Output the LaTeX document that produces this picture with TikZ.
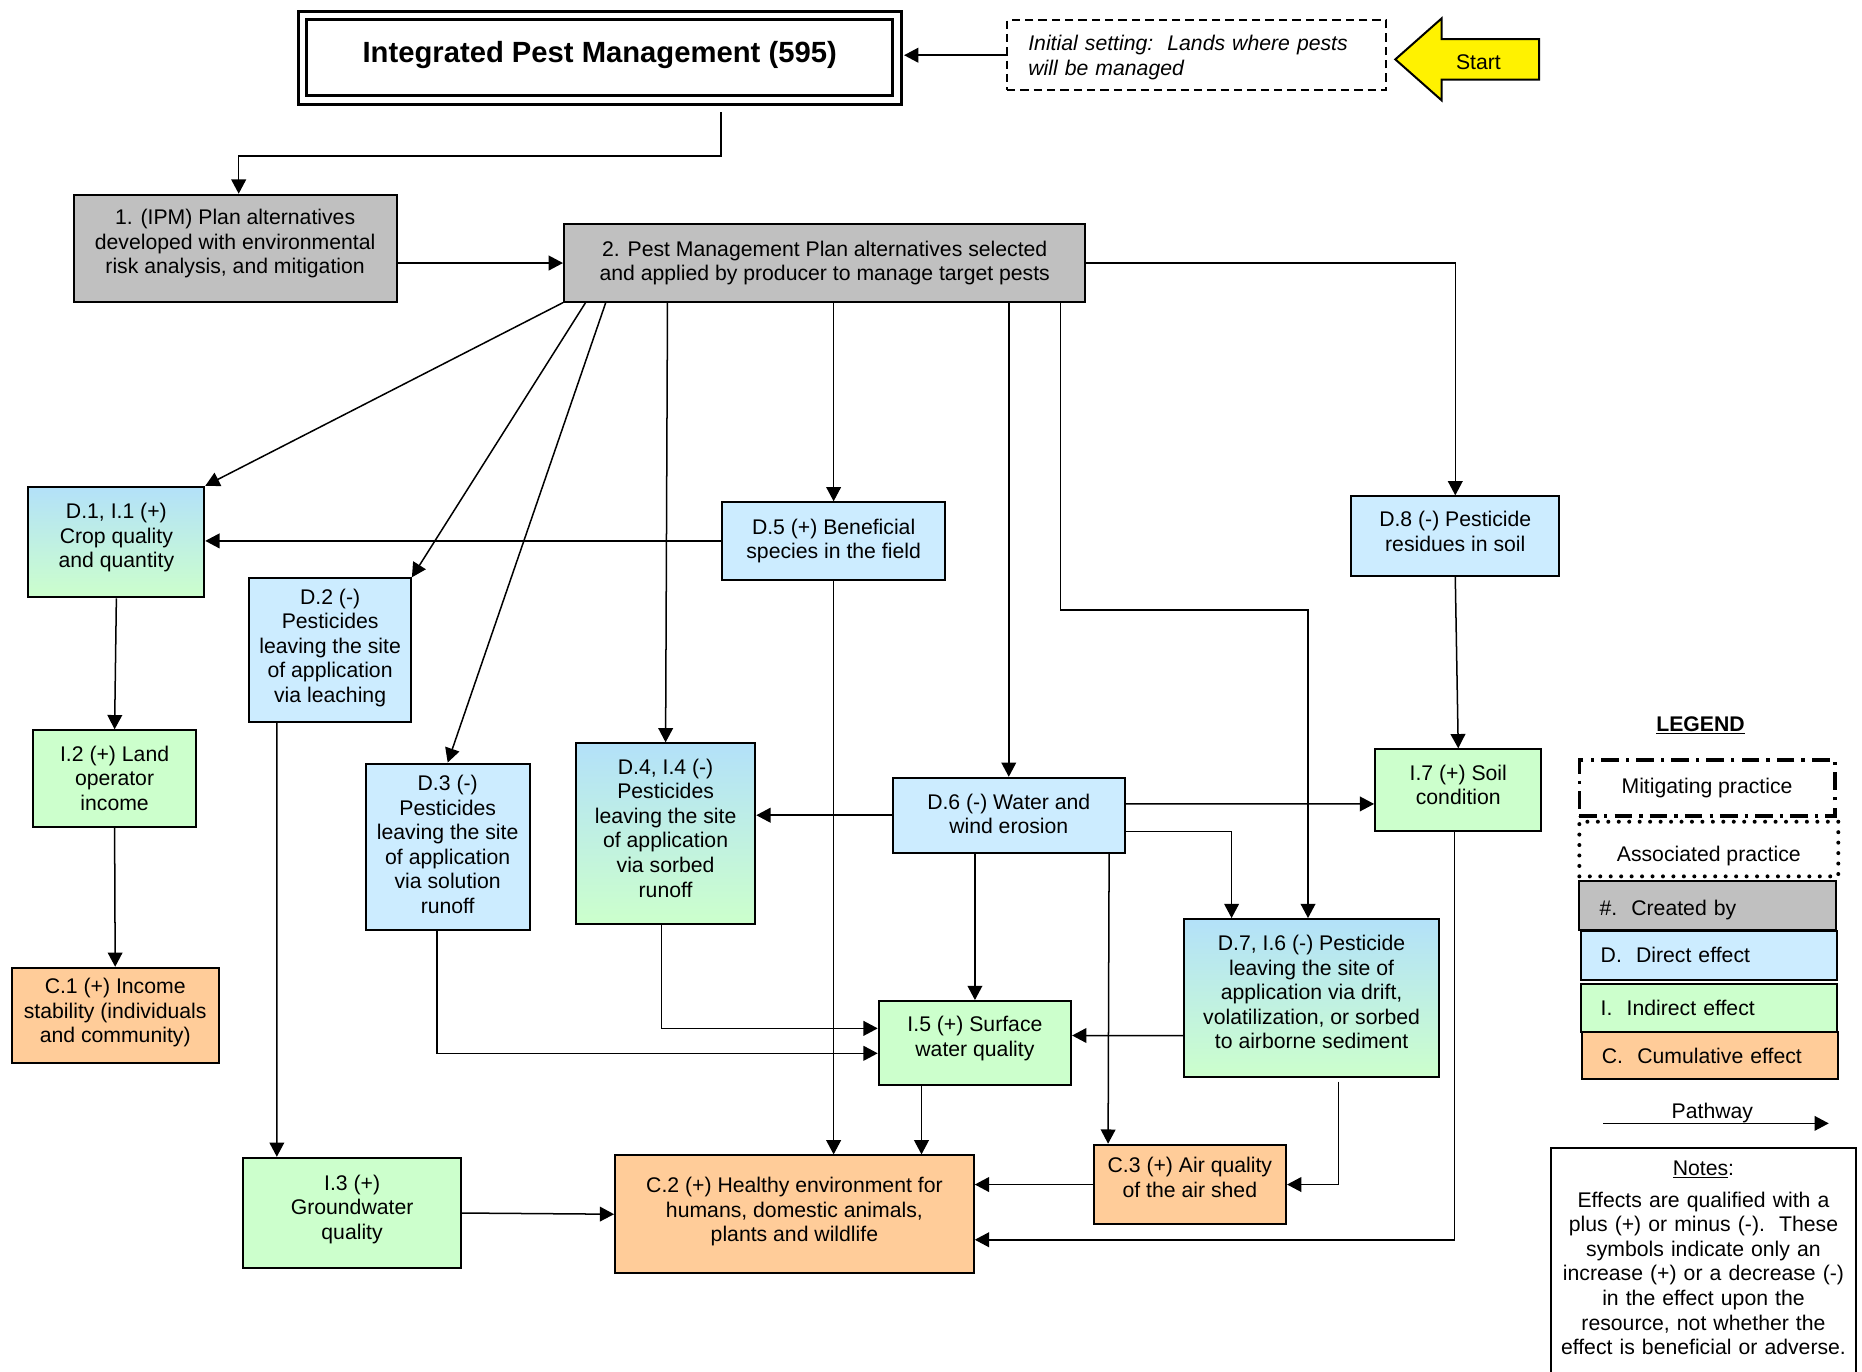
\documentclass[tikz,border=0pt]{standalone}
\usepackage{fontspec}
\setmainfont{Liberation Sans}
\usetikzlibrary{positioning,arrows.meta,calc}

\definecolor{grey}{HTML}{C0C0C0}
\definecolor{dblue}{HTML}{CCECFF}
\definecolor{dbluetop}{HTML}{B3E1F9}
\definecolor{igreen}{HTML}{CCFFCC}
\definecolor{corange}{HTML}{FFCC99}

\begin{document}
\begin{tikzpicture}[x=0.025cm, y=-0.025cm,
  every node/.style={font=\fontsize{12.7}{14.7}\selectfont, align=center, inner sep=2pt},
  box/.style={draw, line width=1.2pt, rectangle},
  created/.style={box, fill=grey},
  direct/.style={box, fill=dblue},
  indirect/.style={box, fill=igreen},
  cumul/.style={box, fill=corange},
  mixed/.style={box, top color=dbluetop, bottom color=igreen},
  legbox/.style={box, text width=4.55cm, inner xsep=0.425cm, align=left},
  link/.style={line width=0.9pt},
  >={Triangle[length=0.3cm, width=0.31cm]}]
\useasboundingbox (0,0) rectangle (1568,1155);

% title, start
\node[box, double, line width=1.8pt, double distance=3.2pt, minimum width=12.51cm, minimum height=1.785cm, text depth=6.5pt, font=\fontsize{17.5}{20}\selectfont\bfseries] (ipm) at (505,48.5) {Integrated Pest Management (595)};
\node[draw, dash pattern=on 5pt off 3pt, line width=1pt, minimum width=7.975cm, minimum height=1.475cm, text width=7.075cm, text height=12pt, inner xsep=0.45cm, align=left, font=\fontsize{12.7}{14.7}\selectfont\itshape] (init) at (1007.5,46.5) {Initial setting:\ \ Lands where pests\\will be managed};
\filldraw[fill=yellow, line width=1.2pt] (1175,50) -- (1214,15.5) -- (1214,33) -- (1296,33) -- (1296,67) -- (1214,67) -- (1214,84.5) -- cycle;
\node (start) at (1245,52) {Start};

% created by
\node[created, minimum width=6.8cm, minimum height=2.25cm, text depth=7.7pt] (plan) at (198,209) {1. (IPM) Plan alternatives\\developed with environmental\\risk analysis, and mitigation};
\node[created, minimum width=10.975cm, minimum height=1.625cm] (pm) at (694.5,221.5) {2. Pest Management Plan alternatives selected\\and applied by producer to manage target pests};

% direct effects
\node[mixed, minimum width=3.7cm, minimum height=2.325cm, text depth=7.7pt] (dcrop) at (98,456.5) {D.1, I.1 (+)\\Crop quality\\and quantity};
\node[direct, minimum width=3.4cm, minimum height=3.025cm, text depth=5.5pt] (dleach) at (278,547.5) {D.2 (-)\\Pesticides\\leaving the site\\of application\\via leaching};
\node[direct, minimum width=3.45cm, minimum height=3.5cm, text depth=2.8pt] (dsol) at (377,713) {D.3 (-)\\Pesticides\\leaving the site\\of application\\via solution\\runoff};
\node[mixed, minimum width=3.775cm, minimum height=3.8cm, text depth=6.8pt] (dsorb) at (560.5,702) {D.4, I.4 (-)\\Pesticides\\leaving the site\\of application\\via sorbed\\runoff};
\node[direct, minimum width=4.7cm, minimum height=1.625cm] (dbene) at (702,455.5) {D.5 (+) Beneficial\\species in the field};
\node[direct, minimum width=4.875cm, minimum height=1.575cm, text depth=1.5pt] (deros) at (849.5,686.5) {D.6 (-) Water and\\wind erosion};
\node[mixed, minimum width=5.375cm, minimum height=3.325cm, text depth=7.1pt] (ddrift) at (1104.5,840.5) {D.7, I.6 (-) Pesticide\\leaving the site of\\application via drift,\\volatilization, or sorbed\\to airborne sediment};
\node[direct, minimum width=4.375cm, minimum height=1.675cm, text depth=5.7pt] (dresid) at (1225.5,451.5) {D.8 (-) Pesticide\\residues in soil};

% indirect effects
\node[indirect, minimum width=3.425cm, minimum height=2.025cm] (iinc) at (96.5,655.5) {I.2 (+) Land\\operator\\income};
\node[indirect, minimum width=4.575cm, minimum height=2.325cm, text depth=7pt] (igw) at (296.5,1021.5) {I.3 (+)\\Groundwater\\quality};
\node[indirect, minimum width=4.05cm, minimum height=1.775cm, text depth=8.4pt] (isw) at (821,878.5) {I.5 (+) Surface\\water quality};
\node[indirect, minimum width=3.5cm, minimum height=1.725cm, text depth=6.4pt] (isoil) at (1228,665.5) {I.7 (+) Soil\\condition};

% cumulative effects
\node[cumul, minimum width=4.35cm, minimum height=2cm, text depth=5.5pt] (cinc) at (97,855) {C.1 (+) Income\\stability (individuals\\and community)};
\node[cumul, minimum width=7.55cm, minimum height=2.475cm, text depth=5.5pt] (chealth) at (669,1022.5) {C.2 (+) Healthy environment for\\humans, domestic animals,\\plants and wildlife};
\node[cumul, minimum width=4.05cm, minimum height=1.675cm, text depth=8.5pt] (cair) at (1002,997.5) {C.3 (+) Air quality\\of the air shed};

% legend
\node (legend) at (1432,611) {\underline{\textbf{LEGEND}}};
\node[box, line width=2.2pt, dash pattern=on 0.37cm off 0.15cm on 0.07cm off 0.15cm, minimum width=5.375cm, minimum height=1.175cm] (lmit) at (1437.5,663.5) {Mitigating practice};
\node[box, line width=2.4pt, line cap=round, dash pattern=on 0pt off 0.22cm, minimum width=5.45cm, minimum height=1.15cm, text height=17.5pt] (lassoc) at (1439,715) {Associated practice};
\node[legbox, fill=grey, minimum height=1.025cm, text height=14.3pt] (lcreat) at (1438,762.5) {\#.\ \ Created by};
\node[legbox, fill=dblue, minimum height=1.025cm] (ldir) at (1439,804.5) {D.\ \ Direct effect};
\node[legbox, fill=igreen, minimum height=1cm] (lind) at (1439,849) {I.\ \ Indirect effect};
\node[legbox, fill=corange, minimum height=1cm] (lcum) at (1440,889) {C.\ \ Cumulative effect};
\node (pathlbl) at (1442,937) {Pathway};
\coordinate (pathS) at (1350,946);
\coordinate (pathE) at (1540,946);
\draw[link,->] (pathS) -- (pathE);

% notes
\draw[line width=1.2pt] (1306,1200) |- (1563,967) -- (1563,1200);
\node[anchor=north, inner sep=0pt, text width=6.3cm] (notes) at (1434.5,977) {\underline{Notes}:\\[0.16cm]Effects are qualified with a\\plus (+) or minus (-).\ \ These\\symbols indicate only an\\increase (+) or a decrease (-)\\in the effect upon the\\resource, not whether the\\effect is beneficial or adverse.};

% pathways
\foreach \a/\b in {pm.south west/dcrop.north east, dcrop.south/iinc.north, iinc.south/cinc.north, dresid.south/isoil.north, igw.east/chealth.west}
  \draw[link,->] (\a) -- (\b);
\draw[link,->,shorten >=0.12cm] (init.west) -- (init.west -| ipm.east);
\draw[link,->] ($(ipm.south)+(102,9)$) -- ++(0,37) -| ($(plan.north)+(3,0)$);
\draw[link,->] (plan.east |- pm.west) -- (pm.west);
\draw[link,->] ($(pm.south west)+(19,0)$) -- (dleach.north east);
\draw[link,->] ($(pm.south west)+(36,0)$) -- (dsol.north);
\draw[link,->] ($(pm.south west)+(88,0)$) -- (dsorb.north);
\draw[link,->] (pm.south -| dbene.north) -- (dbene.north);
\draw[link,->] (pm.south -| deros.north) -- (deros.north);
\draw[link,->] ($(pm.south east)+(-22,0)$) -- ++(0,259) -| ($(ddrift.north)+(-3,0)$);
\draw[link,->] (pm.east) -| (dresid.north);
\draw[link,->] (dbene.west) -- (dbene.west -| dcrop.east);
\draw[link,->] (dbene.south) -- (dbene.south |- chealth.north);
\draw[link,->] ($(dleach.south west)+(24,0)$) -- ($(igw.north west)+(29,0)$);
\draw[link,->] ($(dsol.south)+(-9,0)$) |- ($(isw.west)+(0,8.5)$);
\draw[link,->] ($(dsorb.south)+(-3.5,0)$) |- ($(isw.west)+(0,-12.5)$);
\draw[link,->] (deros.west) -- (deros.west -| dsorb.east);
\draw[link,->] ($(deros.east)+(0,-9.5)$) -- ($(isoil.west)+(0,11.5)$);
\draw[link,->] ($(deros.east)+(0,13.5)$) -| ($(ddrift.north west)+(41,0)$);
\draw[link,->] (isw.north |- deros.south) -- (isw.north);
\draw[link,->] ($(deros.south)+(84.5,0)$) -- ($(cair.north west)+(13,0)$);
\draw[link,->] ($(ddrift.west)+(0,31.5)$) -- ($(isw.east)+(0,-6.5)$);
\draw[link,->] ($(ddrift.south)+(22.5,3)$) |- (cair.east);
\draw[link,->] ($(isw.south)+(-45,0)$) -- ($(chealth.north)+(107,0)$);
\draw[link,->] (cair.west) -- (cair.west -| chealth.east);
\draw[link,->] ($(isoil.south)+(-3,0)$) |- ($(chealth.east)+(0,21.5)$);
\end{tikzpicture}
\end{document}
